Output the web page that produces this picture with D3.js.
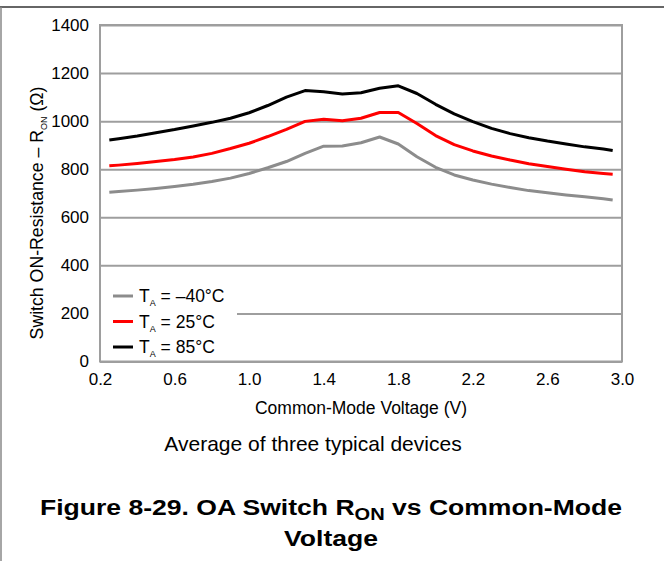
<!DOCTYPE html>
<html>
<head>
<meta charset="utf-8">
<script src="https://cdn.jsdelivr.net/npm/d3@7"></script>
<style>
  html, body { margin: 0; padding: 0; background: #fff; }
  svg { display: block; font-family: "Liberation Sans", Arial, sans-serif; }
</style>
</head>
<body>
<svg id="chart" width="664" height="561"></svg>
<script>
// Common-mode voltage (V)
const voltage = [0.25, 0.3, 0.4, 0.5, 0.6, 0.7, 0.8, 0.9, 1.0, 1.1, 1.2, 1.3, 1.4, 1.5,
  1.6, 1.7, 1.8, 1.9, 2.0, 2.1, 2.2, 2.3, 2.4, 2.5, 2.6, 2.7, 2.8, 2.9, 2.95];

// Switch ON-resistance (Ω), average of three typical devices
const ronMinus40 = [704, 707, 713, 720, 728, 737, 749, 763, 782, 806, 832, 866, 896, 897,
  910, 934, 905, 852, 808, 776, 755, 738, 724, 711, 702, 693, 685, 677, 672];
const ron25 = [814, 817, 824, 832, 840, 851, 866, 886, 908, 936, 966, 999, 1008, 1002,
  1012, 1036, 1036, 990, 940, 902, 876, 855, 838, 823, 811, 800, 789, 782, 779];
const ron85 = [922, 927, 938, 952, 965, 980, 995, 1012, 1035, 1065, 1100, 1127, 1122, 1113,
  1118, 1137, 1147, 1115, 1070, 1030, 998, 970, 948, 931, 917, 905, 893, 884, 878];

const seriesTemps = ["–40°C", "25°C", "85°C"];
const xTicks = [0.2, 0.6, 1.0, 1.4, 1.8, 2.2, 2.6, 3.0];
const yTicks = [0, 200, 400, 600, 800, 1000, 1200, 1400];

const series = [
  { temp: seriesTemps[0], values: ronMinus40, color: "#8c8c8c" },
  { temp: seriesTemps[1], values: ron25, color: "#ff0000" },
  { temp: seriesTemps[2], values: ron85, color: "#000000" }
];

const svg = d3.select("#chart");
const plot = { left: 100, right: 622, top: 25, bottom: 361.5 };

const x = d3.scaleLinear().domain([0.2, 3.0]).range([plot.left, plot.right]);
const y = d3.scaleLinear().domain([0, 1400]).range([plot.bottom, plot.top]);

// Page border (top and left rules)
svg.append("line").attr("x1", 0).attr("x2", 664).attr("y1", 7).attr("y2", 7)
  .attr("stroke", "#333").attr("stroke-width", 1.5);
svg.append("line").attr("x1", 1).attr("x2", 1).attr("y1", 7).attr("y2", 561)
  .attr("stroke", "#888").attr("stroke-width", 1.5);

// Horizontal gridlines
const grid = svg.append("g")
  .attr("transform", `translate(${plot.left},0)`)
  .call(d3.axisLeft(y).tickValues(yTicks).tickSize(-(plot.right - plot.left)).tickFormat(""));
grid.select(".domain").remove();
grid.selectAll(".tick line").attr("stroke", "#9e9e9e").attr("stroke-width", 2);

// Plot frame
svg.append("rect")
  .attr("x", plot.left).attr("y", plot.top)
  .attr("width", plot.right - plot.left).attr("height", plot.bottom - plot.top)
  .attr("fill", "none").attr("stroke", "#9e9e9e").attr("stroke-width", 2);

// Y tick labels
const yAxis = svg.append("g")
  .attr("transform", `translate(${plot.left},0)`)
  .call(d3.axisLeft(y).tickValues(yTicks).tickSize(0).tickPadding(11).tickFormat(d3.format("d")));
yAxis.select(".domain").remove();
yAxis.selectAll("text").attr("font-size", 17).attr("fill", "#000")
  .attr("font-family", "Liberation Sans, Arial, sans-serif");

// X tick labels
const xAxis = svg.append("g")
  .attr("transform", `translate(0,${plot.bottom})`)
  .call(d3.axisBottom(x).tickValues(xTicks).tickSize(0).tickPadding(11).tickFormat(d3.format(".1f")));
xAxis.select(".domain").remove();
xAxis.selectAll("text").attr("font-size", 17).attr("fill", "#000")
  .attr("font-family", "Liberation Sans, Arial, sans-serif");

// Legend background sits over the gridlines
const legend = svg.append("g");
legend.append("rect")
  .attr("x", plot.left + 1).attr("y", 283).attr("width", 136).attr("height", 77)
  .attr("fill", "#fff");

// Series lines
const line = d3.line()
  .x((d, i) => x(voltage[i]))
  .y(d => y(d));

svg.append("g").selectAll("path")
  .data(series)
  .join("path")
  .attr("d", d => line(d.values))
  .attr("fill", "none")
  .attr("stroke", d => d.color)
  .attr("stroke-width", 3)
  .attr("stroke-linejoin", "round");

// Legend entries
const items = legend.selectAll("g.item")
  .data(series)
  .join("g")
  .attr("class", "item")
  .attr("transform", (d, i) => `translate(0,${296 + i * 25.5})`);
items.append("line")
  .attr("x1", 113).attr("x2", 133).attr("y1", 0).attr("y2", 0)
  .attr("stroke", d => d.color).attr("stroke-width", 3);
const lt = items.append("text")
  .attr("x", 139).attr("y", 6)
  .attr("font-size", 17.5).attr("fill", "#000");
lt.append("tspan").text("T");
lt.append("tspan").attr("font-size", 9).attr("dy", 4).text("A");
lt.append("tspan").attr("dy", -4).text(d => ` = ${d.temp}`);

// Axis titles
svg.append("text")
  .attr("x", (plot.left + plot.right) / 2).attr("y", 414)
  .attr("text-anchor", "middle").attr("font-size", 17.5)
  .text("Common-Mode Voltage (V)");

const yt = svg.append("text")
  .attr("transform", "translate(43,213) rotate(-90)")
  .attr("text-anchor", "middle").attr("font-size", 17.7);
yt.append("tspan").text("Switch ON-Resistance – R");
yt.append("tspan").attr("font-size", 9).attr("dy", 4).text("ON");
yt.append("tspan").attr("dy", -4).text(" (Ω)");

// Note and figure caption
svg.append("text")
  .attr("x", 313).attr("y", 451)
  .attr("text-anchor", "middle").attr("font-size", 21)
  .text("Average of three typical devices");

const cap1 = svg.append("text")
  .attr("transform", "translate(331,515) scale(1.18,1)")
  .attr("text-anchor", "middle").attr("font-size", 22.5).attr("font-weight", "bold");
cap1.append("tspan").text("Figure 8-29. OA Switch R");
cap1.append("tspan").attr("font-size", 17).attr("dy", 5).text("ON");
cap1.append("tspan").attr("dy", -5).text(" vs Common-Mode");

svg.append("text")
  .attr("transform", "translate(331,546) scale(1.18,1)")
  .attr("text-anchor", "middle").attr("font-size", 22.5).attr("font-weight", "bold")
  .text("Voltage");
</script>
</body>
</html>
